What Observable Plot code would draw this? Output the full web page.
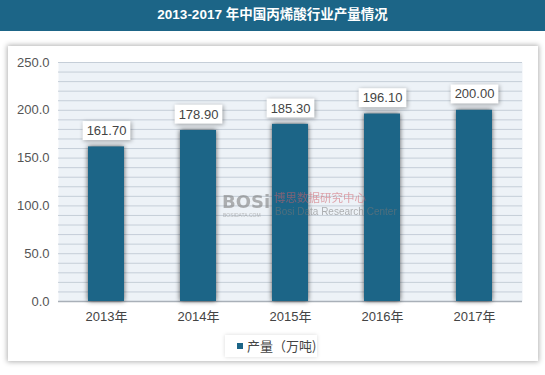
<!DOCTYPE html>
<html><head><meta charset="utf-8">
<script src="https://cdn.jsdelivr.net/npm/d3@7"></script>
<script src="https://cdn.jsdelivr.net/npm/@observablehq/plot@0.6"></script>
<style>
body{margin:0;width:545px;height:375px;background:#fff;position:relative;overflow:hidden;font-family:"Liberation Sans","Noto Sans CJK SC",sans-serif;}
#title{position:absolute;left:0;top:0;width:545px;height:31px;background:#1c6587;color:#fff;font-weight:bold;font-size:13.5px;line-height:30px;text-align:center;}
#card{position:absolute;left:8px;top:46px;width:530px;height:315px;background:#fff;box-shadow:0 0 5px 1px rgba(0,0,0,0.3);}
#chart{position:absolute;left:0;top:30px;}
#legend{position:absolute;left:225px;top:335px;width:92px;height:22px;background:#fff;box-shadow:0 0 4px rgba(0,0,0,0.15);font-size:13px;color:#444;line-height:22px;font-family:"Noto Sans CJK SC",sans-serif;}
#legend span.sw{display:inline-block;width:6px;height:6px;background:#1c6587;margin-left:12px;margin-right:4px;vertical-align:2px;}
#wm{position:absolute;left:222px;top:191px;opacity:0.55;pointer-events:none;}
#wm div{position:absolute;white-space:nowrap;}
#wm .big{left:0;top:1px;font-size:18px;line-height:20px;font-weight:bold;color:#777;font-family:"DejaVu Sans",sans-serif;}
#wm .small{left:1px;top:21px;font-size:5px;line-height:6px;color:#888;}
#wm .cn{left:52px;top:0;font-size:11.5px;line-height:12px;color:#d0606a;font-family:"Noto Sans CJK SC",sans-serif;}
#wm .en{left:53px;top:15px;font-size:10px;line-height:11px;color:#777;}
</style>
</head><body>
<div id="title">2013-2017 年中国丙烯酸行业产量情况</div>
<div id="card"></div>
<div id="chart"></div>
<div id="wm"><div class="big">BOSi</div><div class="small">BOSIDATA.COM</div><div class="cn">博思数据研究中心</div><div class="en">Bosi Data Research Center</div></div>
<div id="legend"><span class="sw"></span>产量（万吨)</div>
<script>
const years = ["2013年", "2014年", "2015年", "2016年", "2017年"];
const output = [161.7, 178.9, 185.3, 196.1, 200.0];
const yTicks = [0, 50, 100, 150, 200, 250];
const gridStep = 10;

const data = years.map((y, i) => ({year: y, value: output[i]}));
const barColor = "#1c6587";

const plot = Plot.plot({
  width: 545,
  height: 300,
  marginLeft: 58,
  marginRight: 23,
  marginTop: 32,
  marginBottom: 29,
  style: {background: "transparent", fontFamily: "'Liberation Sans','Noto Sans CJK SC',sans-serif", fontSize: "13px", color: "#444"},
  x: {domain: years, paddingInner: 0.61, paddingOuter: 0.305, label: null},
  y: {domain: [0, 250], label: null},
  marks: [
    Plot.frame({fill: "#edf2f7", stroke: null}),
    Plot.ruleY(d3.range(gridStep, 251, gridStep), {stroke: "#c5ced8", strokeWidth: 1}),
    Plot.ruleY([0], {stroke: "#a9b0b8", strokeWidth: 1.5}),
    Plot.barY(data, {x: "year", y: "value", fill: barColor}),
    Plot.axisY(yTicks, {tickSize: 0, tickPadding: 9, tickFormat: d3.format(".1f"), fontSize: 13, fill: "#555"}),
    Plot.axisX({tickSize: 0, tickPadding: 10, fontSize: 13, fill: "#444"}),
    Plot.text(data, {x: "year", y: "value", text: d => d3.format(".2f")(d.value), dy: -16, lineAnchor: "middle", fontSize: 13, fill: "#444"})
  ]
});
document.getElementById("chart").appendChild(plot);

const bars = plot.querySelector('g[aria-label="bar"]');
if (bars) bars.style.filter = "drop-shadow(0 0 2.5px rgba(0,0,0,0.65))";

const lab = plot.querySelector('g[aria-label="text"]');
if (lab) {
  const boxes = document.createElementNS("http://www.w3.org/2000/svg", "g");
  boxes.style.filter = "drop-shadow(1px 1px 2px rgba(0,0,0,0.35))";
  lab.parentNode.insertBefore(boxes, lab);
  const gtr = lab.getAttribute("transform");
  if (gtr) boxes.setAttribute("transform", gtr);
  lab.querySelectorAll("text").forEach(t => {
    const b = t.getBBox();
    const r = document.createElementNS("http://www.w3.org/2000/svg", "rect");
    const w = b.width + 8, h = 19;
    r.setAttribute("x", b.x + b.width / 2 - w / 2);
    r.setAttribute("y", b.y + b.height / 2 - h / 2);
    r.setAttribute("width", w);
    r.setAttribute("height", h);
    r.setAttribute("fill", "#fff");
    const tr = t.getAttribute("transform");
    if (tr) r.setAttribute("transform", tr);
    boxes.appendChild(r);
  });
}
</script>
</body></html>
